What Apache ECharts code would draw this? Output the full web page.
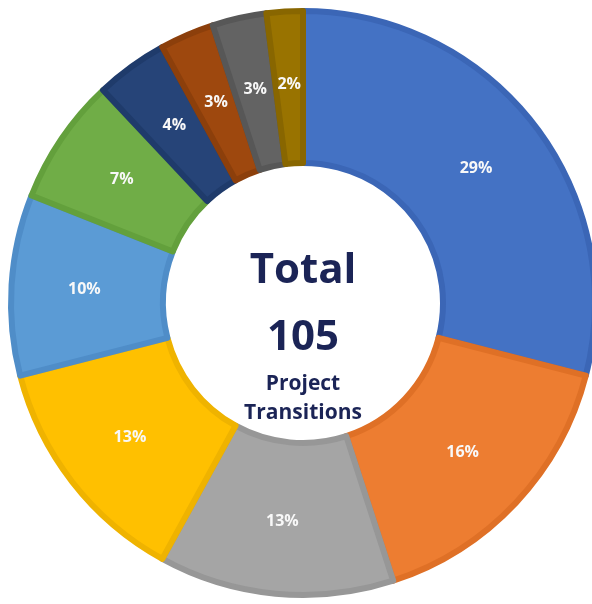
<!DOCTYPE html>
<html>
<head>
<meta charset="utf-8">
<script src="https://cdn.jsdelivr.net/npm/echarts@6/dist/echarts.min.js"></script>
<style>
  html, body { margin: 0; padding: 0; background: #fff; }
  #chart { width: 592px; height: 604px; }
</style>
</head>
<body>
<div id="chart"></div>
<script>
// Share of project transitions by category (percent of 105)
const categories = ['A', 'B', 'C', 'D', 'E', 'F', 'G', 'H', 'I', 'J'];
const shares = [29, 16, 13, 13, 10, 7, 4, 3, 3, 2];
const fillColors = ['#4472C4', '#ED7D31', '#A5A5A5', '#FFC000', '#5B9BD5', '#70AD47', '#264478', '#9E480E', '#636363', '#997300'];
const edgeColors = ['#3b66b6', '#df7026', '#979797', '#efb300', '#4f8dc8', '#63a03c', '#1f3b6b', '#8c3f0b', '#575757', '#886600'];

const centerTitle = 'Total';
const centerCount = '105';
const centerSub1 = 'Project';
const centerSub2 = 'Transitions';

const chart = echarts.init(document.getElementById('chart'), null, { renderer: 'canvas' });

const cx = 303, cy = 303;
const navy = '#1b2456';
const font = '"Open Sans", "DejaVu Sans", sans-serif';

chart.setOption({
  animation: false,
  series: [{
    type: 'pie',
    center: [cx, cy],
    radius: [140, 292],
    startAngle: 90,
    clockwise: true,
    avoidLabelOverlap: false,
    data: categories.map((name, i) => ({
      name,
      value: shares[i],
      itemStyle: { color: fillColors[i], borderColor: edgeColors[i], borderWidth: 6 }
    })),
    label: {
      show: true,
      position: 'inside',
      formatter: '{c}%',
      color: '#f8f8f8',
      fontFamily: font,
      fontWeight: 'bold',
      fontSize: 16
    },
    labelLine: { show: false },
    emphasis: { disabled: true }
  }],
  graphic: [
    { type: 'text', x: cx, y: 271, style: { text: centerTitle, fill: navy, font: 'bold 42px ' + font, textAlign: 'center', textVerticalAlign: 'middle' } },
    { type: 'text', x: cx, y: 338, style: { text: centerCount, fill: navy, font: 'bold 42px ' + font, textAlign: 'center', textVerticalAlign: 'middle' } },
    { type: 'text', x: cx, y: 384, style: { text: centerSub1, fill: navy, font: 'bold 21px ' + font, textAlign: 'center', textVerticalAlign: 'middle' } },
    { type: 'text', x: cx, y: 413, style: { text: centerSub2, fill: navy, font: 'bold 21px ' + font, textAlign: 'center', textVerticalAlign: 'middle' } }
  ]
});
</script>
</body>
</html>
